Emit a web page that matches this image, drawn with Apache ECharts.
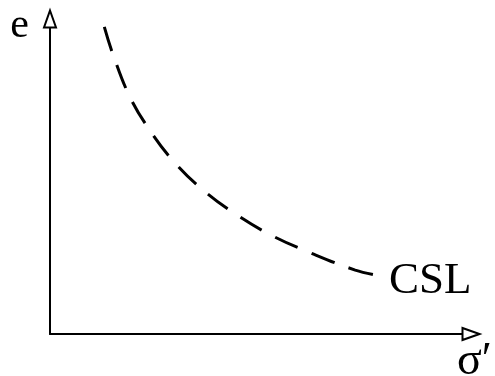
<!DOCTYPE html>
<html>
<head>
<meta charset="utf-8">
<style>
  html, body { margin: 0; padding: 0; background: #fff; }
  #chart { width: 495px; height: 376px; }
</style>
<script src="https://cdn.jsdelivr.net/npm/echarts@6/dist/echarts.min.js"></script>
</head>
<body>
<div id="chart"></div>
<script>
// Critical state line: void ratio e against effective stress σ′ (schematic, 0–100 units)
const stressValues = [12.9, 15.0, 19.0, 24.0, 29.5, 36.1, 43.7, 52.5, 62.0, 72.5, 78.6];
const voidRatioValues = [97.5, 88.6, 75.2, 64.1, 54.6, 46.0, 38.4, 31.4, 25.7, 20.3, 18.4];
const lineName = 'CSL';
const xAxisName = 'σ′';
const yAxisName = 'e';

const serif = "'Liberation Serif', 'Times New Roman', serif";
const chart = echarts.init(document.getElementById('chart'), null, { renderer: 'canvas' });

const axisLine = {
  show: true,
  symbol: ['none', 'emptyTriangle'],
  symbolSize: [12, 17],
  lineStyle: { color: '#000', width: 2 }
};

chart.setOption({
  animation: false,
  backgroundColor: '#fff',
  // fixed plot rectangle; axis names are allowed to run to the canvas edge
  grid: { left: 50, right: 24, top: 19, bottom: 42, outerBoundsMode: 'none', containLabel: false },
  xAxis: {
    type: 'value', min: 0, max: 100,
    axisLine: axisLine,
    axisTick: { show: false }, axisLabel: { show: false }, splitLine: { show: false },
    name: xAxisName, nameLocation: 'end', nameGap: -14,
    nameTextStyle: { fontFamily: serif, fontSize: 46, color: '#000', align: 'left', verticalAlign: 'top', padding: [5, 0, 0, 0] }
  },
  yAxis: {
    type: 'value', min: 0, max: 100,
    axisLine: axisLine,
    axisTick: { show: false }, axisLabel: { show: false }, splitLine: { show: false },
    name: yAxisName, nameLocation: 'end', nameGap: -7,
    nameTextStyle: { fontFamily: serif, fontSize: 42, color: '#000', align: 'right', verticalAlign: 'middle', padding: [0, 21, 0, 0] }
  },
  series: [{
    type: 'line',
    name: lineName,
    data: stressValues.map((x, i) => [x, voidRatioValues[i]]),
    smooth: 0.4,
    showSymbol: false,
    lineStyle: { color: '#000', width: 3, type: [25, 15], cap: 'butt' },
    endLabel: {
      show: true, formatter: lineName, distance: 8, offset: [0, 5],
      fontFamily: serif, fontSize: 45, color: '#000'
    }
  }]
});
</script>
</body>
</html>
